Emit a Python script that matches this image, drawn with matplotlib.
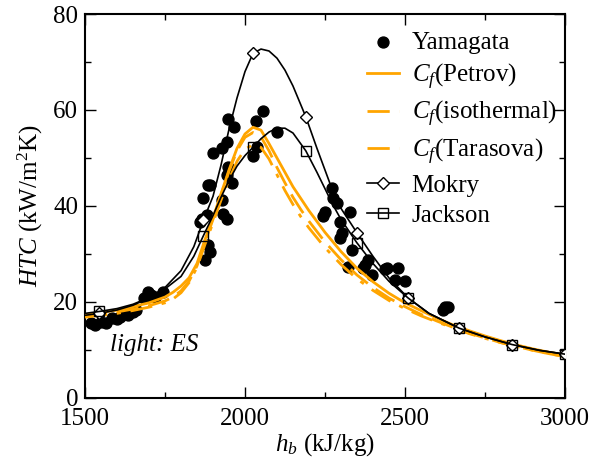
import matplotlib
matplotlib.use("Agg")
import matplotlib.pyplot as plt
from matplotlib.ticker import MultipleLocator

plt.rcParams["font.family"] = ["Liberation Serif", "DejaVu Serif"]
plt.rcParams["mathtext.fontset"] = "custom"
plt.rcParams["mathtext.rm"] = "Liberation Serif"
plt.rcParams["mathtext.it"] = "Liberation Serif:italic"

# Yamagata experimental points (h_b, HTC)
yam_h = [1520, 1530, 1550, 1565, 1585, 1600, 1610, 1635, 1650, 1660, 1685, 1697, 1705, 1720, 1745,
         1859, 1866, 1869, 1875, 1881, 1884, 1891, 1884, 1891, 1900, 1928, 1944, 1947, 1966,
         1928, 1931, 1944, 1944, 1947, 1959,
         2025, 2037, 2034, 2056, 2100,
         2250, 2244, 2272, 2275, 2287, 2328, 2297, 2303, 2297, 2334, 2322, 2369, 2384, 2375,
         2397, 2437, 2444, 2478, 2469, 2500, 2619, 2625, 2634]
yam_htc = [15.6, 15.2, 15.8, 15.5, 16.7, 16.4, 16.8, 17.3, 17.8, 18.3, 20.8, 22.0, 21.4, 21.0, 22.0,
           36.7, 37.3, 41.7, 28.8, 38.1, 31.9, 30.4, 44.4, 44.4, 51.0, 52.1, 53.3, 58.1, 56.5,
           41.3, 38.4, 37.3, 46.5, 48.1, 44.8,
           50.4, 52.3, 57.8, 59.8, 55.4,
           38.7, 38.0, 43.7, 41.7, 40.6, 38.8, 36.7, 34.4, 33.3, 30.8, 27.3, 27.1, 28.7, 27.7,
           25.6, 26.8, 27.1, 27.1, 24.5, 24.4, 18.3, 19.0, 19.0]

# Cf model curves
cf_h = [1500, 1550, 1600, 1650, 1700, 1750, 1775, 1800, 1825, 1850, 1875, 1900, 1925, 1950, 1975,
        2000, 2025, 2050, 2075, 2100, 2125, 2150, 2175, 2200, 2250, 2300, 2350, 2400, 2450, 2500,
        2550, 2600, 2650, 2700, 2750, 2800, 2850, 2900, 2950, 3000]
petrov = [17.3, 17.8, 18.3, 19.0, 19.8, 21.0, 22.0, 23.3, 25.0, 28.0, 33.0, 37.5, 42.5, 47.5, 52.0,
          55.0, 56.4, 55.8, 53.0, 50.0, 47.0, 44.0, 41.5, 39.0, 34.5, 30.5, 27.0, 24.2, 21.8, 19.8,
          18.2, 16.6, 15.2, 14.0, 12.9, 11.9, 11.0, 10.2, 9.5, 8.9]
isothermal = [17.0, 17.4, 17.9, 18.5, 19.2, 20.2, 21.0, 22.3, 24.3, 27.5, 32.5, 37.2, 42.3, 47.2, 51.5,
              54.3, 55.3, 54.4, 51.5, 48.0, 44.8, 41.8, 39.2, 36.8, 32.5, 28.8, 25.6, 23.0, 20.8, 19.0,
              17.4, 16.0, 14.7, 13.5, 12.5, 11.5, 10.7, 9.9, 9.2, 8.6]
tarasova = [16.8, 17.2, 17.6, 18.2, 18.9, 19.8, 20.6, 21.9, 24.0, 27.2, 32.0, 36.5, 41.2, 45.5, 49.3,
            51.8, 52.8, 52.2, 49.8, 46.5, 43.2, 40.3, 37.7, 35.4, 31.3, 27.8, 24.8, 22.4, 20.3, 18.6,
            17.1, 15.8, 14.6, 13.4, 12.4, 11.5, 10.7, 9.9, 9.2, 8.6]

# Mokry and Jackson correlations
mj_h = [1500, 1545, 1600, 1650, 1700, 1750, 1800, 1840, 1870, 1900, 1925, 1950, 1975, 2000, 2025,
        2050, 2075, 2100, 2125, 2150, 2190, 2225, 2250, 2275, 2300, 2350, 2400, 2450, 2510, 2575,
        2670, 2750, 2835, 2920, 3000]
mokry = [17.2, 17.6, 18.3, 19.3, 20.8, 23.0, 26.5, 31.5, 37.0, 42.0, 48.5, 56.0, 62.5, 68.0, 71.8,
         72.7, 72.3, 70.8, 68.3, 65.0, 58.6, 52.0, 47.5, 43.0, 39.5, 34.4, 29.5, 25.0, 20.8, 17.6,
         14.5, 12.7, 11.1, 9.9, 9.1]
jackson = [17.6, 18.0, 18.6, 19.5, 20.9, 22.7, 25.3, 29.5, 33.8, 38.0, 41.8, 45.3, 48.3, 50.5, 52.2,
           54.0, 55.4, 56.2, 56.2, 55.2, 51.5, 47.0, 43.6, 40.2, 37.2, 32.3, 28.0, 24.3, 20.8, 17.6,
           14.5, 12.7, 11.1, 9.9, 9.1]
marker_h = [1545, 1870, 2025, 2190, 2350, 2510, 2670, 2835, 3000]
mark_idx = [mj_h.index(h) for h in marker_h]

fig = plt.figure(figsize=(5.99, 4.68), dpi=100)
ax = fig.add_axes([0.142, 0.150, 0.801, 0.820])

orange = "#ffa500"
ax.scatter(yam_h, yam_htc, s=62, color="black", zorder=2, label="Yamagata")
ax.plot(cf_h, petrov, color=orange, lw=2, zorder=3, label=r"$C_f$(Petrov)")
ax.plot(cf_h, isothermal, color=orange, lw=2, dashes=(8, 3.5), zorder=3, label=r"$C_f$(isothermal)")
ax.plot(cf_h, tarasova, color=orange, lw=2, dashes=(8, 3.5, 1.5, 3.5), zorder=3,
        label=r"$C_f$(Tarasova)")
ax.plot(mj_h, mokry, color="black", lw=1.2, marker="D", ms=6, mfc="white", mec="black", mew=1,
        markevery=mark_idx, zorder=4, label="Mokry")
ax.plot(mj_h, jackson, color="black", lw=1.2, marker="s", ms=7, mfc="none", mec="black", mew=1,
        markevery=mark_idx, zorder=4, label="Jackson")

ax.set_xlim(1500, 3000)
ax.set_ylim(0, 80)
ax.xaxis.set_major_locator(MultipleLocator(500))
ax.xaxis.set_minor_locator(MultipleLocator(250))
ax.yaxis.set_major_locator(MultipleLocator(20))
ax.yaxis.set_minor_locator(MultipleLocator(10))
ax.tick_params(which="both", direction="in", top=True, right=True, labelsize=18)
ax.tick_params(axis="x", pad=7)
ax.tick_params(axis="y", pad=5)
ax.tick_params(which="major", length=8, width=1)
ax.tick_params(which="minor", length=4, width=1)
for sp in ax.spines.values():
    sp.set_linewidth(1.5)

ax.set_xlabel(r"$h_b$ (kJ/kg)", fontsize=18, labelpad=1)
ax.set_ylabel(r"$HTC$ (kW/m$^2$K)", fontsize=18, labelpad=6)
ax.text(1578, 11, "light: ES", fontsize=18, style="italic", va="center")

ax.legend(loc="upper right", frameon=False, fontsize=18, scatterpoints=1, handlelength=1.3,
          handletextpad=0.5, labelspacing=0.3, borderaxespad=0.3, bbox_to_anchor=(1.02, 1.0))

fig.savefig("out.png", dpi=100)
